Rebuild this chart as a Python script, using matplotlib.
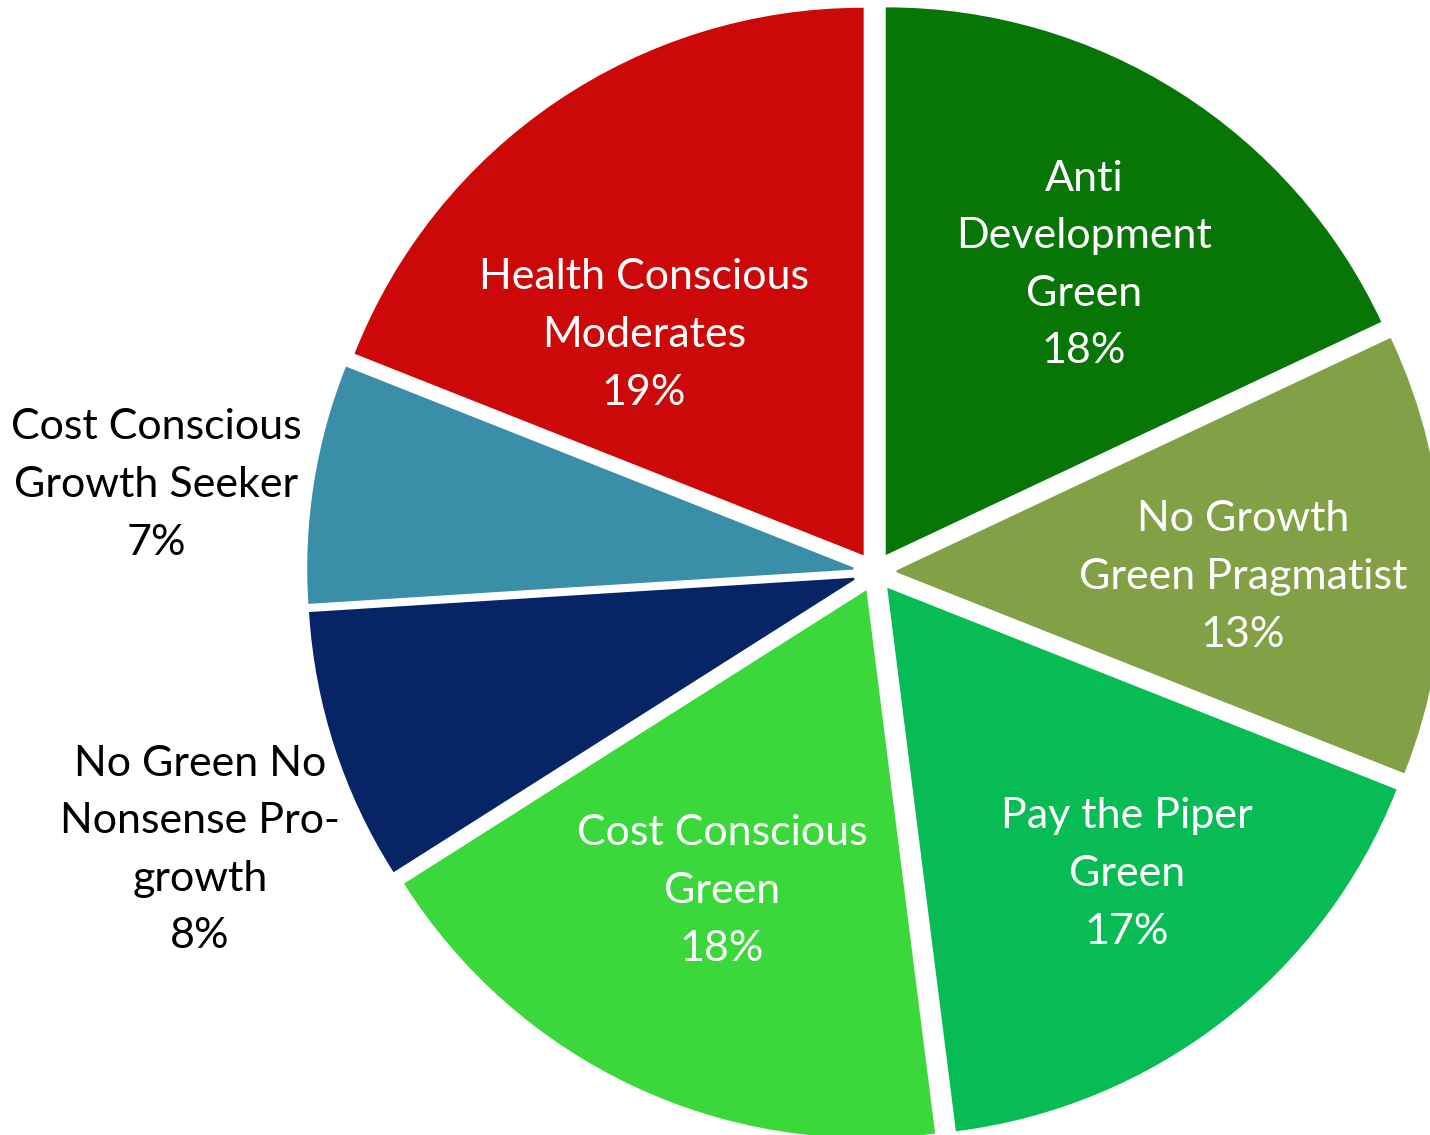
import matplotlib.pyplot as plt

# Segment shares (percent), clockwise from 12 o'clock
segments = ["Anti\nDevelopment\nGreen", "No Growth\nGreen Pragmatist", "Pay the Piper\nGreen",
            "Cost Conscious\nGreen", "No Green No\nNonsense Pro-\ngrowth",
            "Cost Conscious\nGrowth Seeker", "Health Conscious\nModerates"]
shares = [18, 13, 17, 18, 8, 7, 19]
colors = ["#077607", "#82A046", "#07BB55", "#3AD83A", "#062466", "#3A8EA8", "#CC0808"]

# label placement (pixel coords, y measured from the top) and text colour
label_pos = [(1084, 265), (1243, 577), (1127, 874), (722, 891), (200, 850), (156, 485), (644, 335)]
label_col = ["white", "white", "white", "white", "black", "black", "white"]

W, H = 1430, 1135
fig = plt.figure(figsize=(W / 100, H / 100), dpi=100)
ax = fig.add_axes([0, 0, 1, 1])

# explode is in data units here (pixels), since the axes map 1:1 to pixels
wedges, _ = ax.pie(shares, colors=colors, startangle=90, counterclock=False,
                   radius=545, center=(875, H - 572), explode=[22] * len(shares),
                   wedgeprops=dict(linewidth=1.5))

for w, c in zip(wedges, colors):
    w.set_edgecolor(c)

for name, v, (px, py), tc in zip(segments, shares, label_pos, label_col):
    ax.text(px, H - py, f"{name}\n{v}%", ha="center", va="center", color=tc,
            fontsize=31, family="Lato", linespacing=1.63)

ax.set_xlim(0, W)
ax.set_ylim(0, H)
ax.set_aspect("equal")
ax.axis("off")

fig.savefig("out.png", dpi=100)
